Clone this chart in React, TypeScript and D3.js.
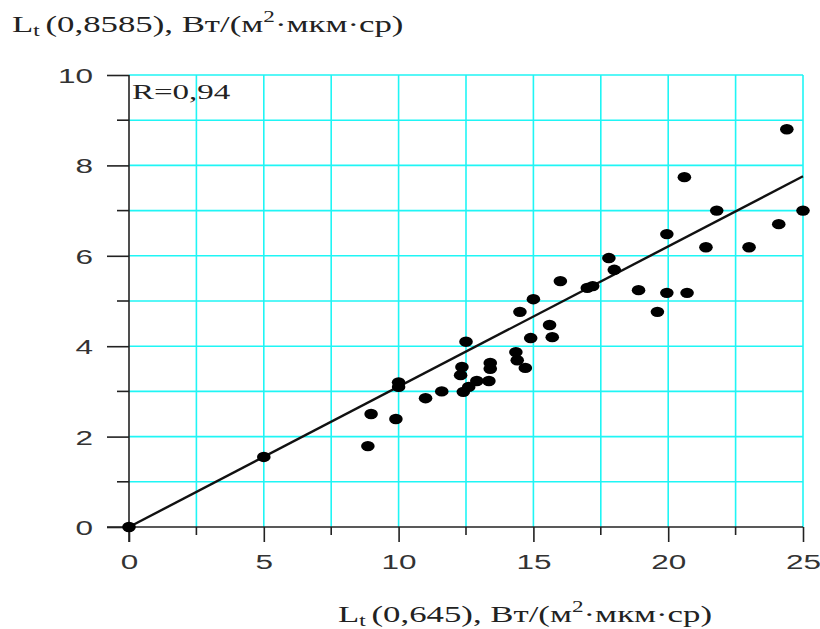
import React, { useEffect, useRef } from "react";
import * as d3 from "d3";

// L_t(0,645) vs L_t(0,8585)
const xValues = [
  0, 5, 8.86, 8.98, 9.9, 10, 10, 11, 11.6, 12.3, 12.35, 12.4, 12.5, 12.6, 12.9,
  13.35, 13.4, 13.4, 14.35, 14.4, 14.5, 14.7, 14.9, 15, 15.6, 15.7, 16, 17,
  17.2, 17.8, 18, 18.9, 19.6, 19.95, 19.95, 20.6, 20.7, 21.4, 21.8, 23, 24.1,
  24.4, 25,
];
const yValues = [
  0, 1.55, 1.79, 2.5, 2.39, 3.2, 3.1, 2.85, 3.0, 3.36, 3.54, 2.99, 4.1, 3.1,
  3.23, 3.23, 3.63, 3.5, 3.87, 3.69, 4.76, 3.52, 4.18, 5.04, 4.47, 4.2, 5.44,
  5.29, 5.33, 5.95, 5.69, 5.24, 4.76, 6.48, 5.18, 7.74, 5.18, 6.19, 7.0, 6.19,
  6.7, 8.8, 7.0,
];
const fitLine = [
  [0, 0],
  [25, 7.76],
];
const xMajorTicks = [0, 5, 10, 15, 20, 25];
const xMinorTicks = [2.5, 7.5, 12.5, 17.5, 22.5];
const yMajorTicks = [0, 2, 4, 6, 8, 10];
const yMinorTicks = [1, 3, 5, 7, 9];
const rLabel = "R=0,94";

// the picture is stretched sideways, so is its text
const SX = 1.5;
const SX_TITLE = 1.45;

export default function App() {
  const ref = useRef<SVGSVGElement>(null);

  useEffect(() => {
    const svg = d3.select(ref.current);
    svg.selectAll("*").remove();

    const left = 129;
    const right = 803;
    const top = 75;
    const bottom = 527;

    const x = d3.scaleLinear().domain([0, 25]).range([left, right]);
    const y = d3.scaleLinear().domain([0, 10]).range([bottom, top]);

    const cyan = "#1ff5f5";
    const axisColor = "#222";
    const serif = "'Liberation Serif', 'Times New Roman', serif";
    const sans = "'Liberation Sans', Arial, sans-serif";

    // grid
    const grid = svg.append("g");
    grid
      .selectAll(".vx")
      .data([...xMinorTicks, ...xMajorTicks.slice(1)])
      .enter()
      .append("line")
      .attr("x1", (d) => x(d))
      .attr("x2", (d) => x(d))
      .attr("y1", y(10))
      .attr("y2", y(0))
      .attr("stroke", cyan)
      .attr("stroke-width", 1.6);
    grid
      .selectAll(".hy")
      .data([...yMinorTicks, ...yMajorTicks.slice(1)])
      .enter()
      .append("line")
      .attr("x1", x(0))
      .attr("x2", x(25))
      .attr("y1", (d) => y(d))
      .attr("y2", (d) => y(d))
      .attr("stroke", cyan)
      .attr("stroke-width", 1.6);

    // x axis
    const xAxis = d3
      .axisBottom(x)
      .tickValues(xMajorTicks)
      .tickSize(15)
      .tickSizeOuter(0);
    const gx = svg
      .append("g")
      .attr("transform", `translate(0,${bottom})`)
      .call(xAxis);
    gx.append("g")
      .selectAll("line")
      .data(xMinorTicks)
      .enter()
      .append("line")
      .attr("x1", (d) => x(d))
      .attr("x2", (d) => x(d))
      .attr("y1", 0)
      .attr("y2", 8);
    gx.select(".domain").attr("d", `M${left - 22},0H${right}`);
    gx.selectAll(".tick text")
      .attr("y", 42)
      .attr("dy", 0)
      .attr("transform", `scale(${SX},1)`);

    // y axis
    const yAxis = d3
      .axisLeft(y)
      .tickValues(yMajorTicks)
      .tickSize(22)
      .tickSizeOuter(0);
    const gy = svg
      .append("g")
      .attr("transform", `translate(${left},0)`)
      .call(yAxis);
    gy.append("g")
      .selectAll("line")
      .data(yMinorTicks)
      .enter()
      .append("line")
      .attr("x1", -12)
      .attr("x2", 0)
      .attr("y1", (d) => y(d))
      .attr("y2", (d) => y(d));
    gy.select(".domain").attr("d", `M0,${top}V${bottom + 15}`);
    gy.selectAll(".tick text")
      .attr("x", -36 / SX)
      .attr("dy", "0.36em")
      .attr("transform", `scale(${SX},1)`);

    [gx, gy].forEach((g) => {
      g.selectAll("line").attr("stroke", axisColor).attr("stroke-width", 1.6);
      g.select(".domain").attr("stroke", axisColor).attr("stroke-width", 1.6);
      g.selectAll("text")
        .attr("fill", "#333")
        .style("font-family", sans)
        .style("font-size", "21px");
    });

    // regression line
    svg
      .append("path")
      .datum(fitLine)
      .attr(
        "d",
        d3
          .line<number[]>()
          .x((d) => x(d[0]))
          .y((d) => y(d[1]))
      )
      .attr("stroke", "#111")
      .attr("stroke-width", 2.4)
      .attr("fill", "none");

    // points
    svg
      .append("g")
      .selectAll("ellipse")
      .data(xValues.map((v, i) => [v, yValues[i]]))
      .enter()
      .append("ellipse")
      .attr("cx", (d) => x(d[0]))
      .attr("cy", (d) => y(d[1]))
      .attr("rx", 6.8)
      .attr("ry", 5.2)
      .attr("fill", "#000");

    // R label
    svg
      .append("g")
      .attr("transform", `translate(${left + 3},${top + 24}) scale(${SX},1)`)
      .append("text")
      .attr("fill", "#222")
      .style("font-family", serif)
      .style("font-size", "22px")
      .text(rLabel);

    // axis titles
    const title = (tx: number, ty: number, wl: string) => {
      const t = svg
        .append("g")
        .attr("transform", `translate(${tx},${ty}) scale(${SX_TITLE},1)`)
        .append("text")
        .attr("fill", "#222")
        .style("font-family", serif)
        .style("font-size", "24px");
      t.append("tspan").text("L");
      t.append("tspan").attr("dy", 4).style("font-size", "16px").text("t");
      t.append("tspan").attr("dy", -4).attr("dx", 4).text(`(${wl}), Вт/(м`);
      t.append("tspan").attr("dy", -10).style("font-size", "16px").text("2");
      t.append("tspan").attr("dy", 10).text("·мкм·ср)");
    };
    title(12, 32, "0,8585");
    title(338, 622, "0,645");
  }, []);

  return (
    <svg
      ref={ref}
      width={820}
      height={629}
      style={{ position: "absolute", left: 0, top: 0, background: "#fff" }}
    />
  );
}
